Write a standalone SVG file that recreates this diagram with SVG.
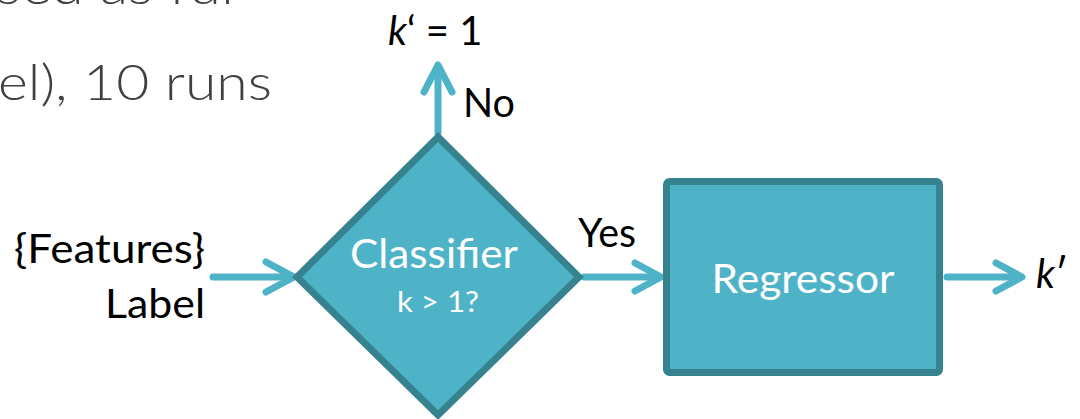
<svg xmlns="http://www.w3.org/2000/svg" width="1080" height="419" viewBox="0 0 1080 419">
  <defs>
    <style>
      .lbl { font-family: Lato, "Open Sans", "Liberation Sans", sans-serif; fill: #000; font-size: 40px; }
      .in { font-family: Lato, "Open Sans", "Liberation Sans", sans-serif; fill: #ffffff; }
      .body { font-family: Lato, "Open Sans", "Liberation Sans", sans-serif; font-weight: 300; fill: #404040; font-size: 50px; }
      .node { fill: #4FB3C8; stroke: #37828F; stroke-width: 7; stroke-linejoin: miter; }
      .wire { stroke: #4FB3C8; stroke-width: 7; fill: none; stroke-linecap: round; stroke-linejoin: round; }
    </style>
  </defs>
  <rect width="1080" height="419" fill="#ffffff"/>

  <!-- slide body text behind the chart -->
  <text class="body" x="-4" y="4" textLength="238" lengthAdjust="spacingAndGlyphs">sed as ful</text>
  <text class="body" x="-2" y="100" textLength="274" lengthAdjust="spacingAndGlyphs">el), 10 runs</text>

  <!-- connectors -->
  <g id="connectors">
    <!-- input -> classifier -->
    <path class="wire" d="M213 277 H292"/>
    <path class="wire" d="M266 262 L294 277 L266 292"/>
    <!-- classifier -> regressor (Yes) -->
    <path class="wire" d="M584 277 H659"/>
    <path class="wire" d="M635 263 L661 277 L635 291"/>
    <!-- regressor -> k' -->
    <path class="wire" d="M947 277 H1020"/>
    <path class="wire" d="M996 263 L1022 277 L996 291"/>
    <!-- classifier -> k' = 1 (No) -->
    <path class="wire" d="M438 133 V66"/>
    <path class="wire" d="M424 92 L438 65 L452 92"/>
  </g>

  <g id="inputs">
    <text class="lbl" x="205" y="263" text-anchor="end" textLength="191" lengthAdjust="spacingAndGlyphs">{Features}</text>
    <text class="lbl" x="205" y="318" text-anchor="end" textLength="100" lengthAdjust="spacingAndGlyphs">Label</text>
  </g>

  <g id="classifier">
    <polygon class="node" points="438,137 297,277 438,415 579,277"/>
    <text class="in" x="434" y="268" text-anchor="middle" font-size="40" textLength="168" lengthAdjust="spacingAndGlyphs">Classifier</text>
    <text class="in" x="438" y="312" text-anchor="middle" font-size="29" textLength="82" lengthAdjust="spacingAndGlyphs">k &gt; 1?</text>
  </g>

  <g id="regressor">
    <rect class="node" x="666.5" y="181.5" width="273" height="191" rx="3"/>
    <text class="in" x="803" y="293" text-anchor="middle" font-size="41" textLength="183" lengthAdjust="spacingAndGlyphs">Regressor</text>
  </g>

  <g id="edge-labels">
    <text class="lbl" x="578" y="247" textLength="58" lengthAdjust="spacingAndGlyphs">Yes</text>
    <text class="lbl" x="463" y="117" textLength="52" lengthAdjust="spacingAndGlyphs">No</text>
    <text class="lbl" x="388" y="45"><tspan font-style="italic">k</tspan>‘ = 1</text>
    <text class="lbl" x="1036" y="288"><tspan font-style="italic">k</tspan>′</text>
  </g>
</svg>
